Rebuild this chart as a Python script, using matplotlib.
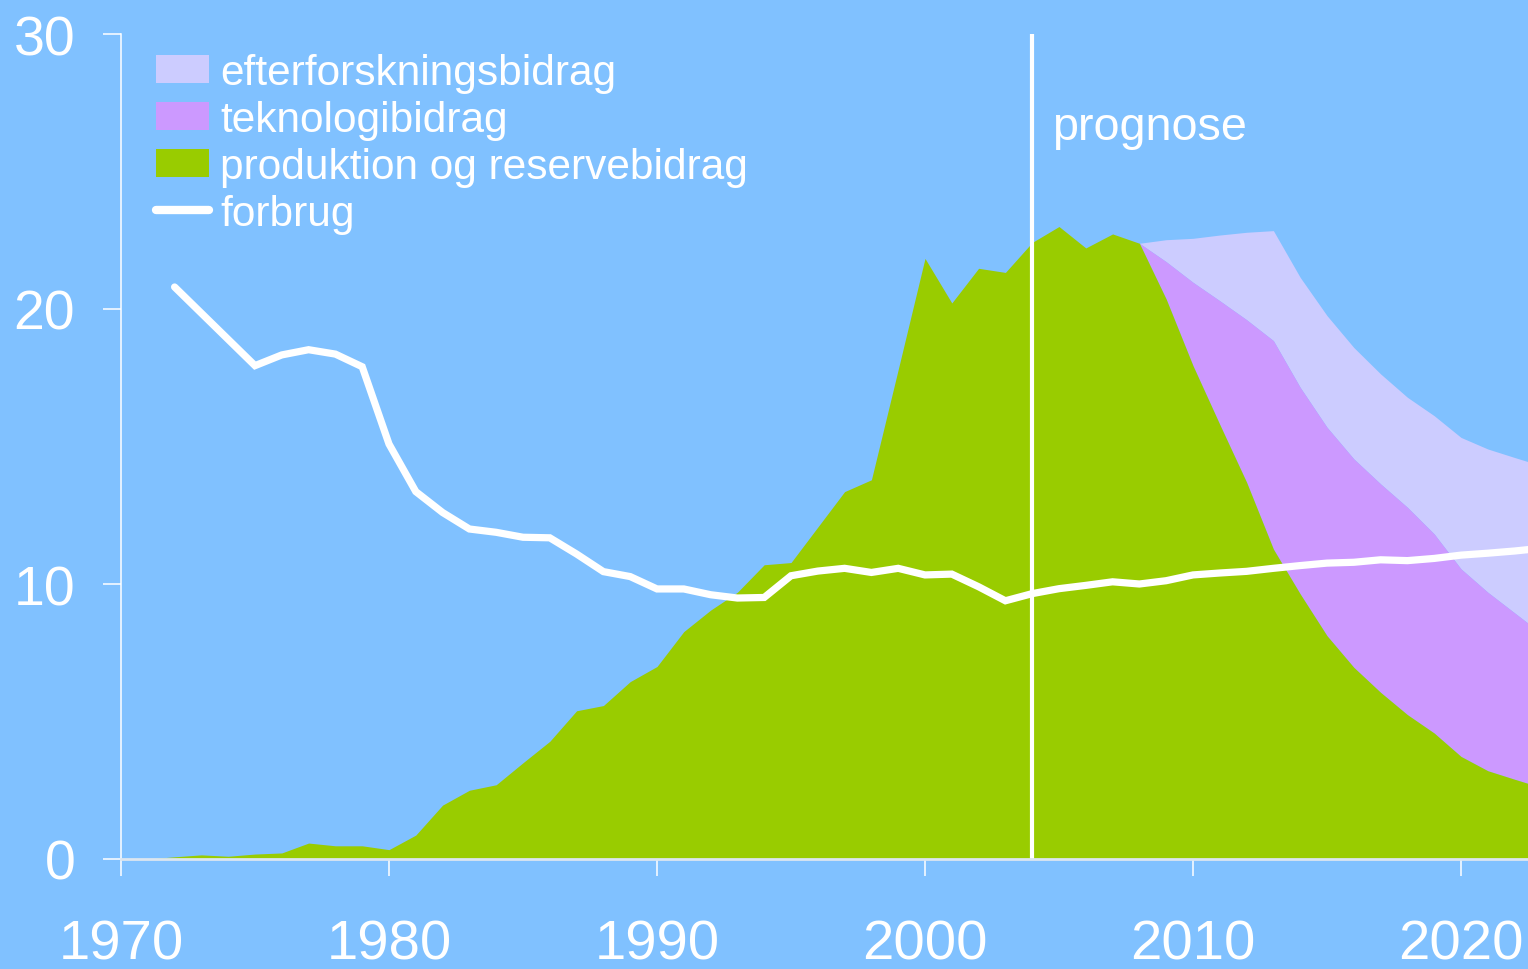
import matplotlib
matplotlib.use("Agg")
import matplotlib.pyplot as plt
from matplotlib.patches import Patch
from matplotlib.lines import Line2D
import numpy as np

plt.rcParams['font.family'] = ['Liberation Sans', 'DejaVu Sans']

# ---- data ----
prod_years = [1971, 1972, 1973, 1974, 1975, 1976, 1977, 1978, 1979, 1980,
              1981, 1982, 1983, 1984, 1985, 1986, 1987, 1988, 1989, 1990,
              1991, 1992, 1993, 1994, 1995, 1996, 1997, 1998, 1999, 2000,
              2001, 2002, 2003, 2004, 2005, 2006, 2007, 2008, 2009, 2010,
              2011, 2012, 2013, 2014, 2015, 2016, 2017, 2018, 2019, 2020,
              2021, 2022, 2023]
produktion = [0.0, 0.08, 0.15, 0.10, 0.18, 0.22, 0.58, 0.48, 0.48, 0.34,
              0.87, 1.96, 2.50, 2.70, 3.50, 4.28, 5.39, 5.58, 6.45, 7.00,
              8.27, 9.05, 9.70, 10.70, 10.78, 12.07, 13.36, 13.79, 17.80, 21.84,
              20.22, 21.48, 21.33, 22.42, 23.00, 22.22, 22.73, 22.39, 20.36, 17.94,
              15.80, 13.70, 11.27, 9.64, 8.12, 6.97, 6.06, 5.25, 4.58, 3.73,
              3.21, 2.90, 2.60]

prog_years = [2008, 2009, 2010, 2011, 2012, 2013, 2014, 2015, 2016, 2017,
              2018, 2019, 2020, 2021, 2022, 2023]
teknologi = [0.0, 1.36, 3.03, 4.50, 5.91, 7.58, 7.51, 7.58, 7.58, 7.58,
             7.54, 7.24, 6.82, 6.49, 6.05, 5.60]
efterforskning = [0.0, 0.80, 1.60, 2.39, 3.18, 4.00, 4.00, 4.06, 4.05, 4.00,
                  4.00, 4.30, 4.78, 5.21, 5.65, 6.10]

forbrug_years = [1972, 1975, 1976, 1977, 1978, 1979, 1980, 1981, 1982, 1983,
                 1984, 1985, 1986, 1987, 1988, 1989, 1990, 1991, 1992, 1993,
                 1994, 1995, 1996, 1997, 1998, 1999, 2000, 2001, 2002, 2003,
                 2004, 2005, 2006, 2007, 2008, 2009, 2010, 2011, 2012, 2013,
                 2014, 2015, 2016, 2017, 2018, 2019, 2020, 2021, 2022, 2023]
forbrug = [20.80, 17.94, 18.33, 18.52, 18.36, 17.90, 15.09, 13.36, 12.60, 12.00,
           11.88, 11.70, 11.68, 11.09, 10.45, 10.27, 9.82, 9.82, 9.61, 9.49,
           9.51, 10.30, 10.47, 10.57, 10.42, 10.57, 10.33, 10.36, 9.90, 9.39,
           9.65, 9.83, 9.95, 10.08, 10.00, 10.12, 10.33, 10.40, 10.46, 10.57,
           10.67, 10.76, 10.79, 10.88, 10.85, 10.93, 11.05, 11.12, 11.20, 11.30]

prognose_year = 2004
x_ticks = [1970, 1980, 1990, 2000, 2010, 2020]
y_ticks = [0, 10, 20, 30]

labels = ["efterforskningsbidrag", "teknologibidrag",
          "produktion og reservebidrag", "forbrug"]

# ---- style ----
BG = "#80C1FF"
GREEN = "#99CC00"
PURPLE = "#CC99FF"
LAVENDER = "#CCCCFF"
WHITE = "#FFFFFF"

fig = plt.figure(figsize=(15.28, 9.70), dpi=100, facecolor=BG)
ax = fig.add_axes([121/1528, 110/970, 1 - 121/1528, 825/970])
ax.set_facecolor(BG)

# stacked areas
green_prog = np.array([produktion[prod_years.index(y)] for y in prog_years])
tek_top = green_prog + np.array(teknologi)
eft_top = tek_top + np.array(efterforskning)
ax.fill_between(prog_years, tek_top, eft_top, color=LAVENDER, lw=0, zorder=1)
ax.fill_between(prog_years, green_prog, tek_top, color=PURPLE, lw=0, zorder=1)
ax.fill_between(prod_years, 0, produktion, color=GREEN, lw=0, zorder=2)

# forecast line
ax.plot([prognose_year, prognose_year], [0, 30], color=WHITE, lw=3,
        solid_capstyle='round', zorder=3)
ax.text(prognose_year + 0.75, 26.2, "prognose", color=WHITE, fontsize=33.7,
        va='baseline', ha='left', zorder=5)

# consumption line
ax.plot(forbrug_years, forbrug, color=WHITE, lw=5.2, solid_capstyle='round',
        solid_joinstyle='miter', zorder=4)

ax.set_xlim(1970, 1970 + (1528 - 121) / 26.8)
ax.set_ylim(0, 30)
ax.set_xticks(x_ticks)
ax.set_yticks(y_ticks)

for s in ['top', 'right']:
    ax.spines[s].set_visible(False)
ax.spines['left'].set_color(WHITE)
ax.spines['left'].set_linewidth(1.1)
ax.spines['bottom'].set_color("#DCE6F0")
ax.spines['bottom'].set_linewidth(2.0)
ax.spines['bottom'].set_zorder(6)
ax.tick_params(axis='y', direction='out', length=13, width=1.1, color=WHITE,
               labelcolor=WHITE, labelsize=40, pad=20)
ax.tick_params(axis='x', direction='out', length=12.5, width=1.1, color=WHITE,
               labelcolor=WHITE, labelsize=40.5, pad=30)

handles = [Patch(facecolor=LAVENDER, edgecolor='none'),
           Patch(facecolor=PURPLE, edgecolor='none'),
           Patch(facecolor=GREEN, edgecolor='none'),
           Line2D([0], [0], color=WHITE, lw=6, solid_capstyle='round')]
leg = ax.legend(handles, labels, loc='upper left',
                bbox_to_anchor=(0.0249, 0.977), frameon=False,
                fontsize=30.5, labelcolor=WHITE, handlelength=1.25,
                handleheight=0.64, handletextpad=0.26, labelspacing=0.165,
                borderpad=0, borderaxespad=0)

fig.savefig("out.png", dpi=100, facecolor=BG)
